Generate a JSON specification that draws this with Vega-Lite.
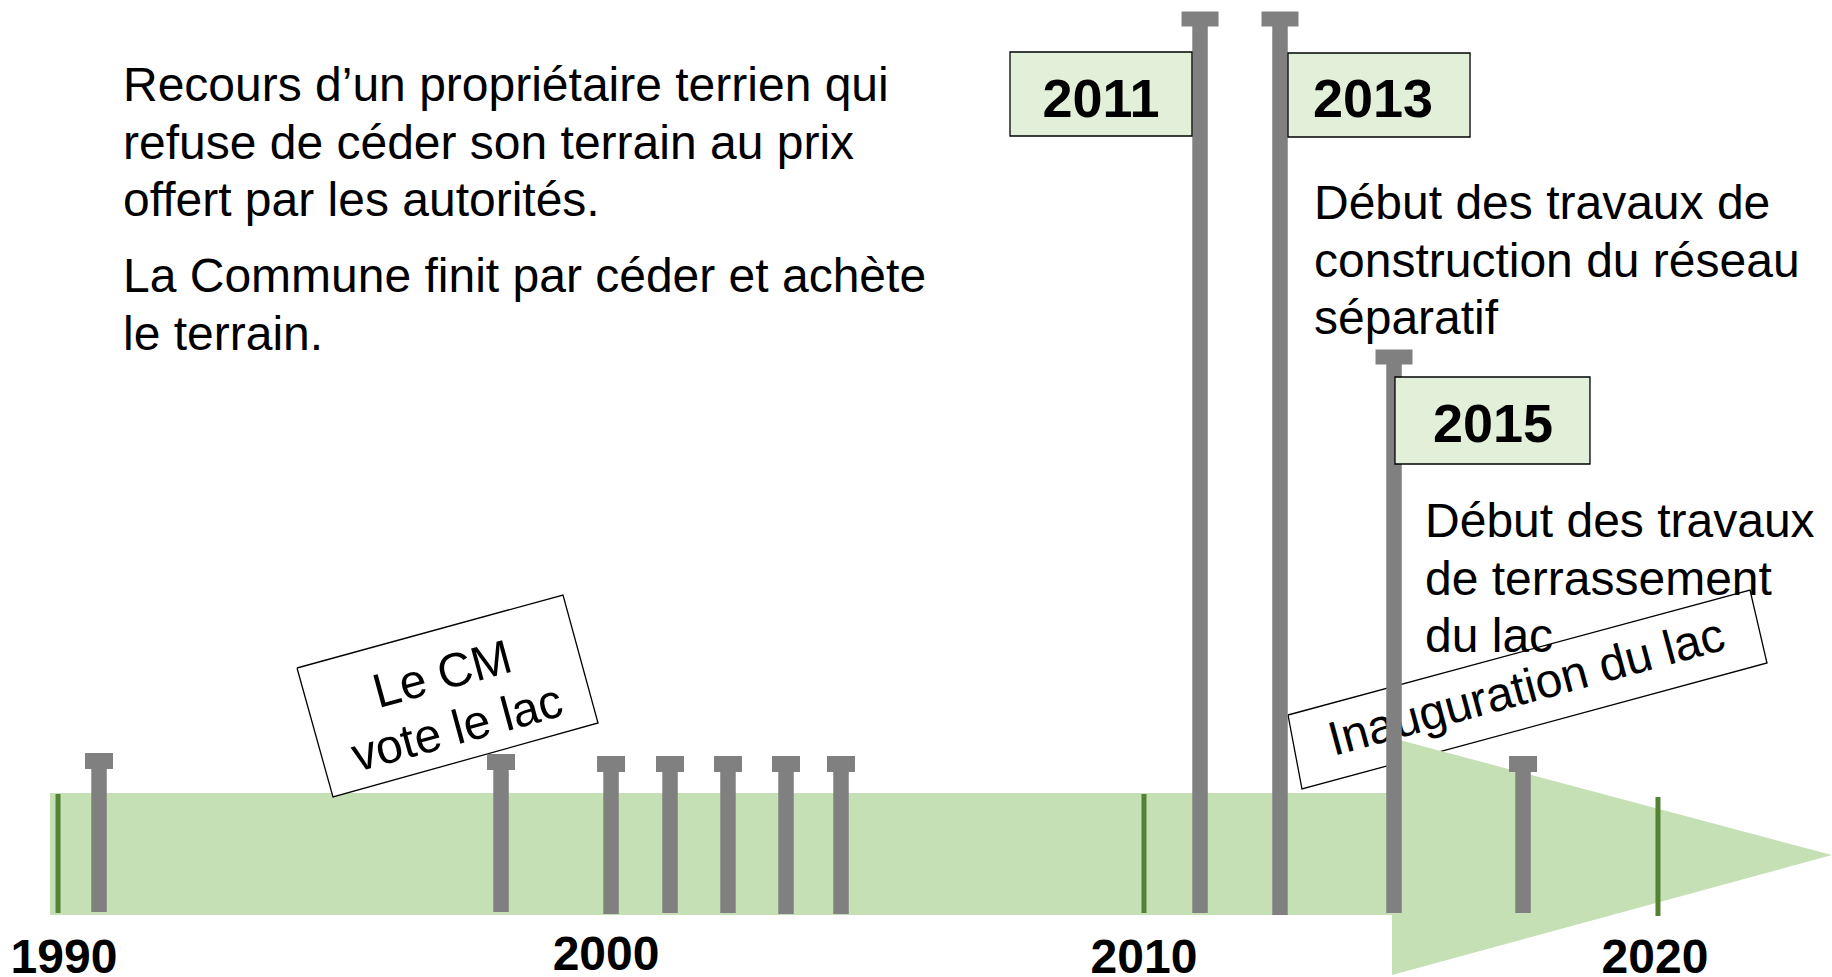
{
  "$schema": "https://vega.github.io/schema/vega-lite/v6.json",
  "width": 1832,
  "height": 977,
  "autosize": {"type": "none"},
  "padding": 0,
  "background": "white",
  "config": {"view": {"stroke": null}, "font": "Liberation Sans"},
  "datasets": {
    "band": [{"x": 1989.704, "x2": 2014.844, "y": 62, "y2": 184}],
    "arrow": [{"x": 2014.844, "y": 239, "y2": 2}, {"x": 2023.087, "y": 122, "y2": 122}],
    "ticks": [
      {"x": 1989.854, "y": 64, "y2": 183},
      {"x": 2010.198, "y": 64, "y2": 183},
      {"x": 2019.827, "y": 61, "y2": 180}
    ],
    "rods": [
      {"x": 1990.622, "y": 216, "y2": 65, "kind": "small"},
      {"x": 1998.153, "y": 215, "y2": 65, "kind": "small"},
      {"x": 2000.214, "y": 213, "y2": 63, "kind": "small"},
      {"x": 2001.319, "y": 213, "y2": 64, "kind": "small"},
      {"x": 2002.405, "y": 213, "y2": 64, "kind": "small"},
      {"x": 2003.492, "y": 213, "y2": 63, "kind": "small"},
      {"x": 2004.522, "y": 213, "y2": 63, "kind": "small"},
      {"x": 2011.248, "y": 958, "y2": 64, "kind": "big"},
      {"x": 2012.746, "y": 958, "y2": 62, "kind": "big"},
      {"x": 2014.882, "y": 620, "y2": 64, "kind": "big"},
      {"x": 2017.299, "y": 213, "y2": 64, "kind": "small"}
    ],
    "flags": [
      {"x": 2007.688, "x2": 2011.097, "y": 841, "y2": 925, "t": "2011", "tx": 2009.393, "ty": 860},
      {"x": 2012.896, "x2": 2016.306, "y": 840, "y2": 924, "t": "2013", "tx": 2014.489, "ty": 860},
      {"x": 2014.9, "x2": 2018.553, "y": 513, "y2": 600, "t": "2015", "tx": 2016.736, "ty": 535}
    ],
    "years": [
      {"x": 1989.966, "y": 4, "t": "1990"},
      {"x": 2000.12, "y": 7, "t": "2000"},
      {"x": 2010.198, "y": 4, "t": "2010"},
      {"x": 2019.771, "y": 4, "t": "2020"}
    ],
    "notes": [
      {"x": 1991.071, "y": 876, "t": "Recours d’un propriétaire terrien qui\nrefuse de céder son terrain au prix\noffert par les autorités."},
      {"x": 1991.071, "y": 685, "t": "La Commune finit par céder et achète\nle terrain."},
      {"x": 2013.383, "y": 758, "t": "Début des travaux de\nconstruction du réseau\nséparatif"},
      {"x": 2015.463, "y": 440, "t": "Début des travaux\nde terrassement\ndu lac"}
    ],
    "boxes": [
      {"box": "cm", "i": 0, "x": 1994.331, "y": 309},
      {"box": "cm", "i": 1, "x": 1999.314, "y": 382},
      {"box": "cm", "i": 2, "x": 1999.970, "y": 254},
      {"box": "cm", "i": 3, "x": 1995.005, "y": 180},
      {"box": "cm", "i": 4, "x": 1994.331, "y": 309},
      {"box": "inaug", "i": 0, "x": 2012.896, "y": 262},
      {"box": "inaug", "i": 1, "x": 2021.551, "y": 387},
      {"box": "inaug", "i": 2, "x": 2021.869, "y": 314},
      {"box": "inaug", "i": 3, "x": 2013.158, "y": 188},
      {"box": "inaug", "i": 4, "x": 2012.896, "y": 262}
    ],
    "boxtext": [
      {"box": "cm", "x": 1997.061, "y": 301, "t": "Le CM\nvote le lac"},
      {"box": "inaug", "x": 2017.369, "y": 288, "t": "Inauguration du lac"}
    ]
  },
  "layer": [
    {
      "data": {"name": "band"},
      "mark": {"type": "rect", "color": "#c5e0b4"},
      "encoding": {
        "x": {"field": "x", "type": "quantitative", "scale": {"domain": [1988.767, 2023.087], "nice": false, "zero": false}, "axis": null},
        "x2": {"field": "x2"},
        "y": {"field": "y", "type": "quantitative", "scale": {"domain": [0, 977], "nice": false, "zero": false}, "axis": null},
        "y2": {"field": "y2"}
      }
    },
    {
      "data": {"name": "boxes"},
      "mark": {"type": "line", "stroke": "#000000", "strokeWidth": 1.3, "fill": "white", "interpolate": "linear"},
      "encoding": {
        "x": {"field": "x", "type": "quantitative", "scale": {"domain": [1988.767, 2023.087], "nice": false, "zero": false}, "axis": null},
        "y": {"field": "y", "type": "quantitative", "scale": {"domain": [0, 977], "nice": false, "zero": false}, "axis": null},
        "detail": {"field": "box"},
        "order": {"field": "i", "type": "quantitative"}
      }
    },
    {
      "data": {"name": "arrow"},
      "mark": {"type": "area", "color": "#c5e0b4", "opacity": 1},
      "encoding": {
        "x": {"field": "x", "type": "quantitative", "scale": {"domain": [1988.767, 2023.087], "nice": false, "zero": false}, "axis": null},
        "y": {"field": "y", "type": "quantitative", "scale": {"domain": [0, 977], "nice": false, "zero": false}, "axis": null},
        "y2": {"field": "y2"}
      }
    },
    {
      "data": {"name": "ticks"},
      "mark": {"type": "rule", "color": "#548235", "strokeWidth": 5},
      "encoding": {
        "x": {"field": "x", "type": "quantitative", "scale": {"domain": [1988.767, 2023.087], "nice": false, "zero": false}, "axis": null},
        "y": {"field": "y", "type": "quantitative", "scale": {"domain": [0, 977], "nice": false, "zero": false}, "axis": null},
        "y2": {"field": "y2"}
      }
    },
    {
      "data": {"name": "boxtext"},
      "transform": [{"filter": "datum.box === 'inaug'"}],
      "mark": {"type": "text", "fontSize": 48, "font": "Liberation Sans", "align": "center", "baseline": "middle", "angle": -15.2, "lineBreak": "\n", "lineHeight": 56, "color": "#000000"},
      "encoding": {
        "x": {"field": "x", "type": "quantitative", "scale": {"domain": [1988.767, 2023.087], "nice": false, "zero": false}, "axis": null},
        "y": {"field": "y", "type": "quantitative", "scale": {"domain": [0, 977], "nice": false, "zero": false}, "axis": null},
        "text": {"field": "t"}
      }
    },
    {
      "data": {"name": "rods"},
      "mark": {"type": "rule", "color": "#808080", "strokeWidth": 15.5, "strokeCap": "butt"},
      "encoding": {
        "x": {"field": "x", "type": "quantitative", "scale": {"domain": [1988.767, 2023.087], "nice": false, "zero": false}, "axis": null},
        "y": {"field": "y", "type": "quantitative", "scale": {"domain": [0, 977], "nice": false, "zero": false}, "axis": null},
        "y2": {"field": "y2"}
      }
    },
    {
      "data": {"name": "rods"},
      "transform": [{"filter": "datum.kind === 'small'"}],
      "mark": {"type": "tick", "orient": "horizontal", "color": "#808080", "size": 28, "thickness": 16, "opacity": 1},
      "encoding": {
        "x": {"field": "x", "type": "quantitative", "scale": {"domain": [1988.767, 2023.087], "nice": false, "zero": false}, "axis": null},
        "y": {"field": "y", "type": "quantitative", "scale": {"domain": [0, 977], "nice": false, "zero": false}, "axis": null}
      }
    },
    {
      "data": {"name": "rods"},
      "transform": [{"filter": "datum.kind === 'big'"}],
      "mark": {"type": "tick", "orient": "horizontal", "color": "#808080", "size": 37, "thickness": 15, "opacity": 1},
      "encoding": {
        "x": {"field": "x", "type": "quantitative", "scale": {"domain": [1988.767, 2023.087], "nice": false, "zero": false}, "axis": null},
        "y": {"field": "y", "type": "quantitative", "scale": {"domain": [0, 977], "nice": false, "zero": false}, "axis": null}
      }
    },
    {
      "data": {"name": "flags"},
      "mark": {"type": "rect", "fill": "#e2f0d9", "stroke": "#000000", "strokeWidth": 1.3},
      "encoding": {
        "x": {"field": "x", "type": "quantitative", "scale": {"domain": [1988.767, 2023.087], "nice": false, "zero": false}, "axis": null},
        "x2": {"field": "x2"},
        "y": {"field": "y", "type": "quantitative", "scale": {"domain": [0, 977], "nice": false, "zero": false}, "axis": null},
        "y2": {"field": "y2"}
      }
    },
    {
      "data": {"name": "flags"},
      "mark": {"type": "text", "fontSize": 54, "fontWeight": "bold", "font": "Liberation Sans", "align": "center", "baseline": "alphabetic", "color": "#000000"},
      "encoding": {
        "x": {"field": "tx", "type": "quantitative", "scale": {"domain": [1988.767, 2023.087], "nice": false, "zero": false}, "axis": null},
        "y": {"field": "ty", "type": "quantitative", "scale": {"domain": [0, 977], "nice": false, "zero": false}, "axis": null},
        "text": {"field": "t"}
      }
    },
    {
      "data": {"name": "years"},
      "mark": {"type": "text", "fontSize": 48, "fontWeight": "bold", "font": "Liberation Sans", "align": "center", "baseline": "alphabetic", "color": "#000000"},
      "encoding": {
        "x": {"field": "x", "type": "quantitative", "scale": {"domain": [1988.767, 2023.087], "nice": false, "zero": false}, "axis": null},
        "y": {"field": "y", "type": "quantitative", "scale": {"domain": [0, 977], "nice": false, "zero": false}, "axis": null},
        "text": {"field": "t"}
      }
    },
    {
      "data": {"name": "notes"},
      "mark": {"type": "text", "fontSize": 48, "font": "Liberation Sans", "align": "left", "baseline": "alphabetic", "lineBreak": "\n", "lineHeight": 57.5, "color": "#000000"},
      "encoding": {
        "x": {"field": "x", "type": "quantitative", "scale": {"domain": [1988.767, 2023.087], "nice": false, "zero": false}, "axis": null},
        "y": {"field": "y", "type": "quantitative", "scale": {"domain": [0, 977], "nice": false, "zero": false}, "axis": null},
        "text": {"field": "t"}
      }
    },
    {
      "data": {"name": "boxtext"},
      "transform": [{"filter": "datum.box === 'cm'"}],
      "mark": {"type": "text", "fontSize": 48, "font": "Liberation Sans", "align": "center", "baseline": "middle", "angle": -15.3, "lineBreak": "\n", "lineHeight": 56, "color": "#000000"},
      "encoding": {
        "x": {"field": "x", "type": "quantitative", "scale": {"domain": [1988.767, 2023.087], "nice": false, "zero": false}, "axis": null},
        "y": {"field": "y", "type": "quantitative", "scale": {"domain": [0, 977], "nice": false, "zero": false}, "axis": null},
        "text": {"field": "t"}
      }
    }
  ]
}
